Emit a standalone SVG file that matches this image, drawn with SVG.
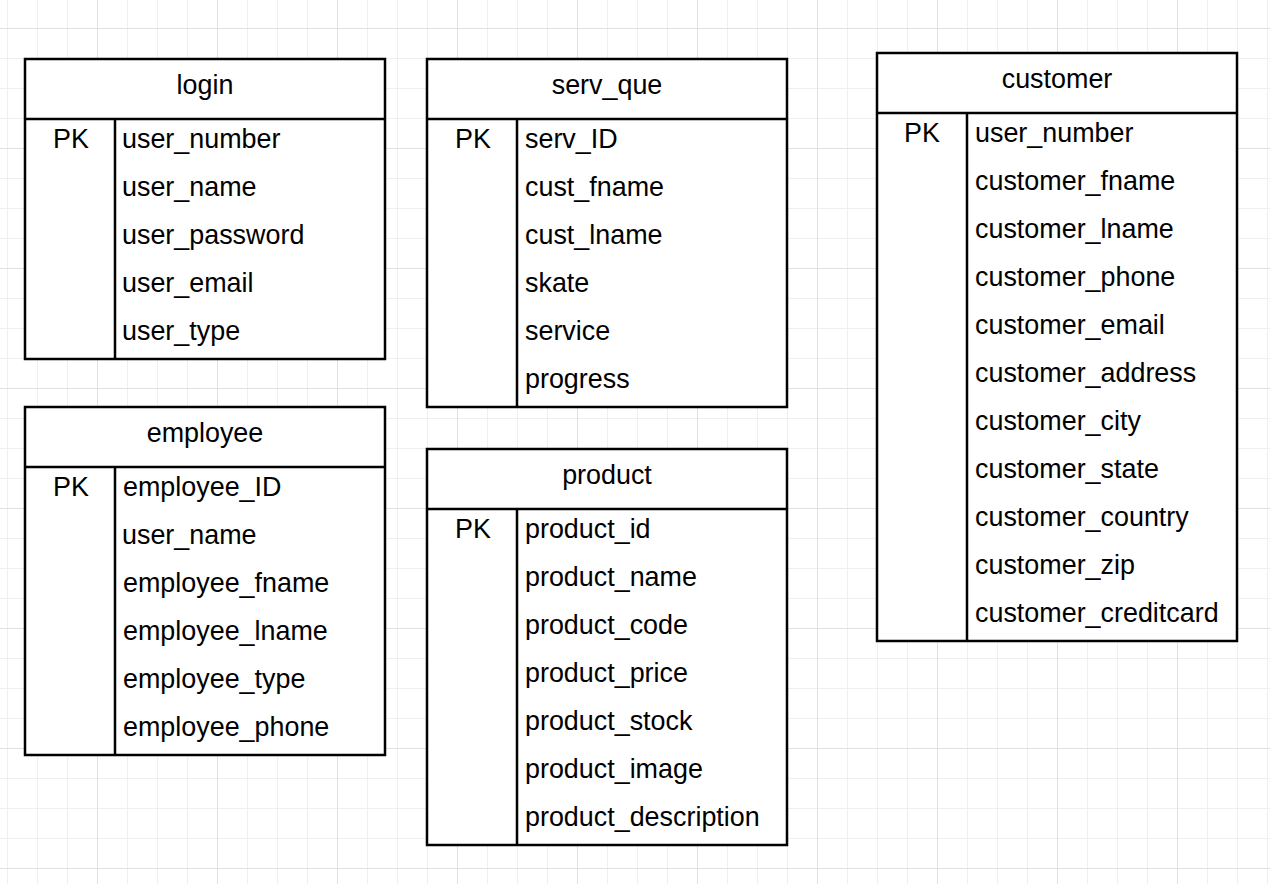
<svg xmlns="http://www.w3.org/2000/svg" width="1270" height="884" viewBox="0 0 1270 884">
<style>
.box{fill:#fff;stroke:#000;stroke-width:2.5}
.ln{stroke:#000;stroke-width:2.5;fill:none}
text{font-family:"Liberation Sans",Arial,sans-serif;font-size:26.9px;fill:#000}
.h{text-anchor:middle}
.pk{text-anchor:middle}
</style>
<defs>
<pattern id="minor" x="7" y="28" width="30" height="30" patternUnits="userSpaceOnUse">
<path d="M0 0.5H30M0.5 0V30" stroke="#efefef" stroke-width="1" fill="none"/>
</pattern>
<pattern id="major" x="97" y="28" width="120" height="120" patternUnits="userSpaceOnUse">
<path d="M0 0.5H120M0.5 0V120" stroke="#e0e0e0" stroke-width="1" fill="none"/>
</pattern>
</defs>
<rect width="1270" height="884" fill="#fff"/>
<rect width="1270" height="884" fill="url(#minor)"/>
<rect width="1270" height="884" fill="url(#major)"/>
<g id="connectors"></g>
<g id="login">
<rect class="box" x="25" y="59" width="360" height="300"/>
<path class="ln" d="M25 119H385M115 119V359"/>
<text class="h" x="205" y="94">login</text>
<text class="pk" x="71" y="148">PK</text>
<text x="122" y="148">user_number</text>
<text x="122" y="196">user_name</text>
<text x="122" y="244">user_password</text>
<text x="122" y="292">user_email</text>
<text x="122" y="340">user_type</text>
</g>
<g id="employee">
<rect class="box" x="25" y="407" width="360" height="348"/>
<path class="ln" d="M25 467H385M115 467V755"/>
<text class="h" x="205" y="442">employee</text>
<text class="pk" x="71" y="496">PK</text>
<text x="123" y="496">employee_ID</text>
<text x="122" y="544">user_name</text>
<text x="123" y="592">employee_fname</text>
<text x="123" y="640">employee_lname</text>
<text x="123" y="688">employee_type</text>
<text x="123" y="736">employee_phone</text>
</g>
<g id="serv_que">
<rect class="box" x="427" y="59" width="360" height="348"/>
<path class="ln" d="M427 119H787M517 119V407"/>
<text class="h" x="607" y="94">serv_que</text>
<text class="pk" x="473" y="148">PK</text>
<text x="525" y="148">serv_ID</text>
<text x="525" y="196">cust_fname</text>
<text x="525" y="244">cust_lname</text>
<text x="525" y="292">skate</text>
<text x="525" y="340">service</text>
<text x="525" y="388">progress</text>
</g>
<g id="product">
<rect class="box" x="427" y="449" width="360" height="396"/>
<path class="ln" d="M427 509H787M517 509V845"/>
<text class="h" x="607" y="484">product</text>
<text class="pk" x="473" y="538">PK</text>
<text x="525" y="538">product_id</text>
<text x="525" y="586">product_name</text>
<text x="525" y="634">product_code</text>
<text x="525" y="682">product_price</text>
<text x="525" y="730">product_stock</text>
<text x="525" y="778">product_image</text>
<text x="525" y="826">product_description</text>
</g>
<g id="customer">
<rect class="box" x="877" y="53" width="360" height="588"/>
<path class="ln" d="M877 113H1237M967 113V641"/>
<text class="h" x="1057" y="88">customer</text>
<text class="pk" x="922" y="142">PK</text>
<text x="975" y="142">user_number</text>
<text x="975" y="190">customer_fname</text>
<text x="975" y="238">customer_lname</text>
<text x="975" y="286">customer_phone</text>
<text x="975" y="334">customer_email</text>
<text x="975" y="382">customer_address</text>
<text x="975" y="430">customer_city</text>
<text x="975" y="478">customer_state</text>
<text x="975" y="526">customer_country</text>
<text x="975" y="574">customer_zip</text>
<text x="975" y="622">customer_creditcard</text>
</g>
</svg>
